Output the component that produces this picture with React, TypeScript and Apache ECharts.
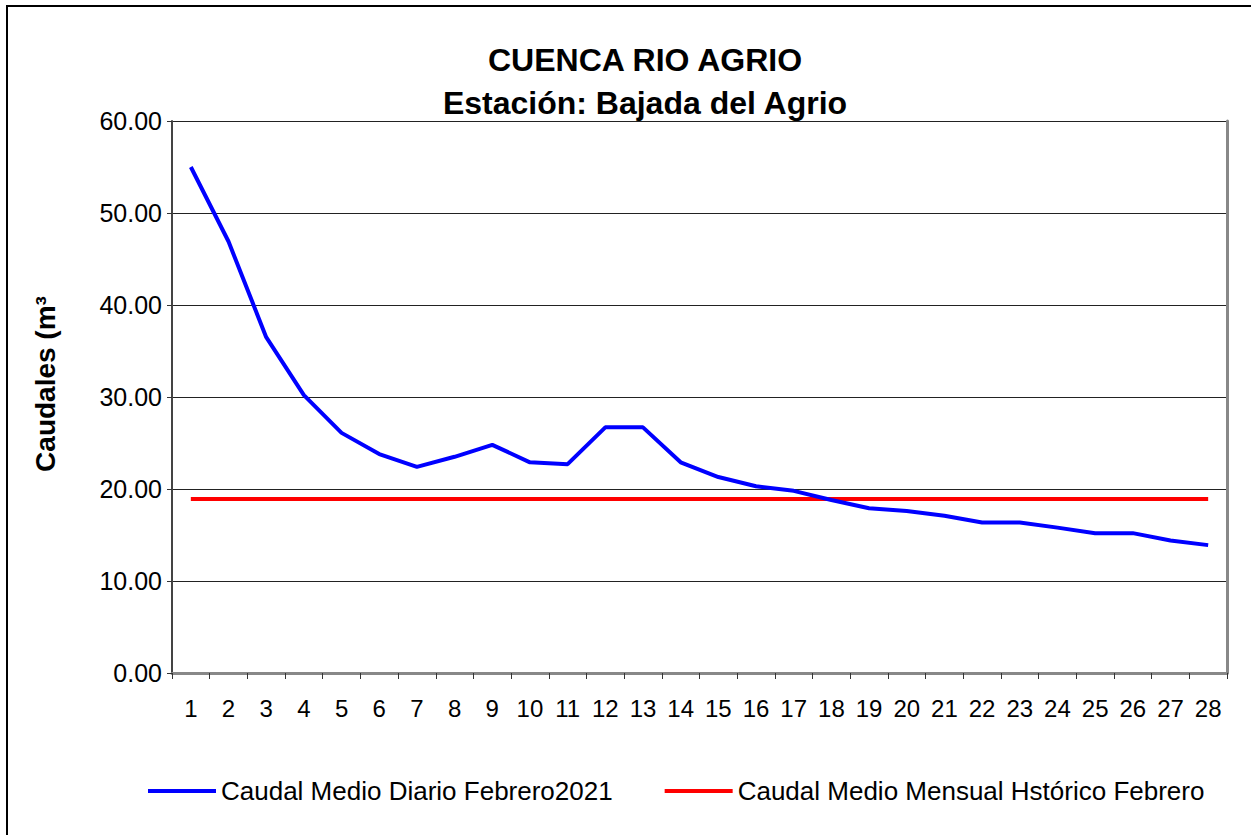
import React, { useEffect, useRef } from "react";
import * as echarts from "echarts";

const days = ["1","2","3","4","5","6","7","8","9","10","11","12","13","14","15","16","17","18","19","20","21","22","23","24","25","26","27","28"];
const dailyFlow2021 = [55.0, 46.9, 36.5, 30.2, 26.1, 23.8, 22.4, 23.5, 24.8, 22.9, 22.7, 26.7, 26.7, 22.9, 21.3, 20.3, 19.8, 18.8, 17.9, 17.6, 17.1, 16.35, 16.35, 15.8, 15.2, 15.2, 14.4, 13.9];
const historicMean = [18.9, 18.9, 18.9, 18.9, 18.9, 18.9, 18.9, 18.9, 18.9, 18.9, 18.9, 18.9, 18.9, 18.9, 18.9, 18.9, 18.9, 18.9, 18.9, 18.9, 18.9, 18.9, 18.9, 18.9, 18.9, 18.9, 18.9, 18.9];
const seriesNames = ["Caudal Medio Diario Febrero2021", "Caudal Medio Mensual Hstórico Febrero"];
const titleLines = ["CUENCA RIO AGRIO", "Estación: Bajada del Agrio"];
const yAxisTitle = "Caudales (m³";

const FONT = "'Liberation Sans', Arial, Helvetica, sans-serif";

export default function App() {
  const ref = useRef<HTMLDivElement>(null);
  useEffect(() => {
    if (!ref.current) return;
    const chart = echarts.init(ref.current, undefined, { renderer: "svg" });
    chart.setOption({
      animation: false,
      backgroundColor: "#ffffff",
      textStyle: { fontFamily: FONT },
      title: {
        text: titleLines.join("\n"),
        left: 640,
        top: 33,
        textAlign: "center",
        textStyle: { fontSize: 32, fontWeight: "bold", color: "#000", lineHeight: 43, fontFamily: FONT },
      },
      legend: {
        left: 143,
        top: 773,
        itemWidth: 68,
        itemHeight: 4,
        itemGap: 52,
        icon: "rect",
        textStyle: { fontSize: 26, color: "#000", fontFamily: FONT },
        data: seriesNames,
      },
      grid: { left: 172, right: 24, top: 121, bottom: 162, containLabel: false },
      xAxis: [
        {
          type: "category",
          data: days,
          boundaryGap: true,
          axisLine: { show: true, lineStyle: { color: "#333", width: 2 } },
          axisTick: { show: true, length: 6, lineStyle: { color: "#333", width: 1 } },
          axisLabel: { fontSize: 24, color: "#000", margin: 23, interval: 0, fontFamily: FONT },
          splitLine: { show: false },
        },
        {
          type: "category",
          data: days,
          position: "top",
          axisLine: { show: true, lineStyle: { color: "#888", width: 3 } },
          axisTick: { show: false },
          axisLabel: { show: false },
          splitLine: { show: false },
        },
      ],
      yAxis: [
        {
          type: "value",
          min: 0,
          max: 60,
          interval: 10,
          axisLine: { show: true, lineStyle: { color: "#444", width: 2 } },
          axisTick: { show: true, length: 5, lineStyle: { color: "#333" } },
          axisLabel: {
            fontSize: 25,
            color: "#000",
            margin: 10,
            fontFamily: FONT,
            formatter: (v: number) => v.toFixed(2),
          },
          splitLine: { show: true, lineStyle: { color: "#222", width: 1 } },
        },
        {
          type: "value",
          min: 0,
          max: 60,
          interval: 10,
          position: "right",
          axisLine: { show: true, lineStyle: { color: "#888", width: 3 } },
          axisTick: { show: false },
          axisLabel: { show: false },
          splitLine: { show: false },
        },
      ],
      graphic: [
        {
          type: "rect",
          shape: { x: 7, y: 6, width: 1300, height: 900 },
          style: { fill: "none", stroke: "#000", lineWidth: 2 },
          silent: true,
        },
        {
          type: "text",
          x: 45,
          y: 384,
          rotation: Math.PI / 2,
          style: {
            text: yAxisTitle,
            fontSize: 28,
            fontWeight: "bold",
            fill: "#000",
            fontFamily: FONT,
            align: "center",
            verticalAlign: "middle",
          },
        },
      ],
      series: [
        {
          name: seriesNames[0],
          type: "line",
          data: dailyFlow2021,
          showSymbol: false,
          symbol: "none",
          itemStyle: { color: "#0000FF" },
          lineStyle: { color: "#0000FF", width: 4 },
          z: 3,
        },
        {
          name: seriesNames[1],
          type: "line",
          data: historicMean,
          showSymbol: false,
          symbol: "none",
          itemStyle: { color: "#FF0000" },
          lineStyle: { color: "#FF0000", width: 4 },
          z: 2,
        },
      ],
    });
    return () => chart.dispose();
  }, []);
  return (
    <div
      ref={ref}
      style={{ position: "fixed", left: 0, top: 0, width: 1251, height: 835, background: "#fff" }}
    />
  );
}
